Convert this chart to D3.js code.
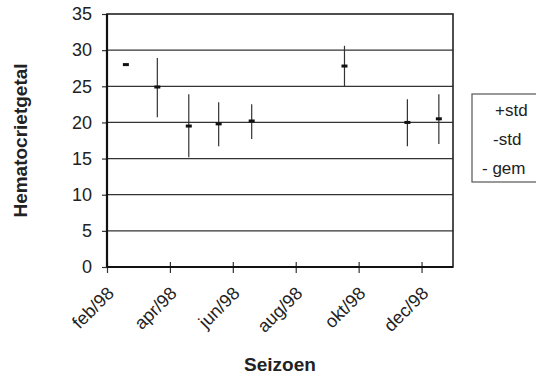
<!DOCTYPE html>
<html>
<head>
<meta charset="utf-8">
<script src="https://cdn.jsdelivr.net/npm/d3@7"></script>
<style>
  body { margin: 0; background: #fff; }
  text { font-family: "Liberation Sans", Arial, sans-serif; fill: #222; }
</style>
</head>
<body>
<div id="chart-area"></div>
<script>
// months since feb/98 (sample dates fall mid-month)
var monthPos = [0.6, 1.6, 2.6, 3.55, 4.6, 7.55, 9.55, 10.55];
var gem      = [28.0, 24.9, 19.5, 19.8, 20.2, 27.8, 20.0, 20.5];
var plusStd  = [28.0, 28.9, 23.9, 22.8, 22.5, 30.6, 23.2, 23.9];
var minStd   = [28.0, 20.7, 15.2, 16.7, 17.7, 25.0, 16.7, 17.0];

var tickMonths = [0, 2, 4, 6, 8, 10];
var tickLabels = ["feb/98", "apr/98", "jun/98", "aug/98", "okt/98", "dec/98"];
var yTicks = [0, 5, 10, 15, 20, 25, 30, 35];
var legendNames = ["+std", "-std", "- gem"];

var W = 536, H = 378;
var margin = { top: 14, right: 83, bottom: 111, left: 107 },
    width  = W - margin.left - margin.right,
    height = H - margin.top - margin.bottom;

var svg = d3.select("#chart-area")
    .append("svg")
    .attr("width", W)
    .attr("height", H);

var g = svg.append("g")
    .attr("transform", "translate(" + margin.left + "," + margin.top + ")");

// scales
var xScale = d3.scaleLinear().domain([0, 11]).range([0, width]);
var yScale = d3.scaleLinear().domain([0, 35]).range([height, 0]);

// gridlines
g.selectAll(".grid")
    .data(yTicks.slice(1, -1))
    .enter()
    .append("line")
    .attr("class", "grid")
    .attr("x1", 0).attr("x2", width)
    .attr("y1", function(d) { return yScale(d); })
    .attr("y2", function(d) { return yScale(d); })
    .attr("stroke", "#333")
    .attr("stroke-width", 1.2);

// y axis
var yAxis = d3.axisLeft(yScale).tickValues(yTicks).tickSize(5).tickPadding(10);
var yG = g.append("g").call(yAxis);
yG.select(".domain").remove();
yG.selectAll("line").attr("stroke", "#333").attr("stroke-width", 1.2);
yG.selectAll("text")
    .style("font-size", "18px")
    .attr("fill", "#222");

// x axis (ticks cross the axis line)
var xAxis = d3.axisBottom(xScale)
    .tickValues(tickMonths)
    .tickSize(6)
    .tickFormat(function(d, i) { return tickLabels[i]; });
var xG = g.append("g")
    .attr("transform", "translate(0," + height + ")")
    .call(xAxis);
xG.select(".domain").remove();
xG.selectAll("line").attr("y1", -5).attr("stroke", "#333").attr("stroke-width", 1.2);
xG.selectAll("text")
    .attr("y", 0).attr("dy", "0.35em")
    .attr("transform", "translate(3,23) rotate(-45)")
    .style("text-anchor", "end")
    .style("font-size", "18px")
    .attr("fill", "#222");

// plot frame
g.append("rect")
    .attr("x", 0).attr("y", 0)
    .attr("width", width).attr("height", height)
    .attr("fill", "none")
    .attr("stroke", "#222")
    .attr("stroke-width", 1.6);
g.append("line")
    .attr("x1", 0).attr("x2", 0).attr("y1", 0).attr("y2", height)
    .attr("stroke", "#111").attr("stroke-width", 2.2);
g.append("line")
    .attr("x1", 0).attr("x2", width).attr("y1", height).attr("y2", height)
    .attr("stroke", "#111").attr("stroke-width", 2.2);

// std bars
g.selectAll(".err")
    .data(monthPos)
    .enter()
    .append("line")
    .attr("class", "err")
    .attr("x1", function(d) { return xScale(d); })
    .attr("x2", function(d) { return xScale(d); })
    .attr("y1", function(d, i) { return yScale(plusStd[i]); })
    .attr("y2", function(d, i) { return yScale(minStd[i]); })
    .attr("stroke", "#333")
    .attr("stroke-width", 1.2);

// mean markers
g.selectAll(".gem")
    .data(monthPos)
    .enter()
    .append("rect")
    .attr("class", "gem")
    .attr("x", function(d) { return xScale(d) - 3; })
    .attr("y", function(d, i) { return yScale(gem[i]) - 1.5; })
    .attr("width", 6)
    .attr("height", 3)
    .attr("fill", "#111");

// axis titles
svg.append("text")
    .attr("x", margin.left + width / 2)
    .attr("y", 371)
    .style("text-anchor", "middle")
    .style("font-size", "19px")
    .style("font-weight", "bold")
    .text("Seizoen");

svg.append("text")
    .attr("transform", "translate(27," + (margin.top + height / 2) + ") rotate(-90)")
    .style("text-anchor", "middle")
    .style("font-size", "19px")
    .style("font-weight", "bold")
    .text("Hematocrietgetal");

// legend
var legend = svg.append("g").attr("transform", "translate(472,94)");
legend.append("rect")
    .attr("x", 0).attr("y", 0)
    .attr("width", 80).attr("height", 88)
    .attr("fill", "#fff")
    .attr("stroke", "#555")
    .attr("stroke-width", 1.2);
var legendX = [23, 21, 10];
legend.selectAll(".leg")
    .data(legendNames)
    .enter()
    .append("text")
    .attr("class", "leg")
    .attr("x", function(d, i) { return legendX[i]; })
    .attr("y", function(d, i) { return 16 + i * 29; })
    .attr("dy", "0.35em")
    .style("font-size", "17px")
    .text(function(d) { return d; });
</script>
</body>
</html>
